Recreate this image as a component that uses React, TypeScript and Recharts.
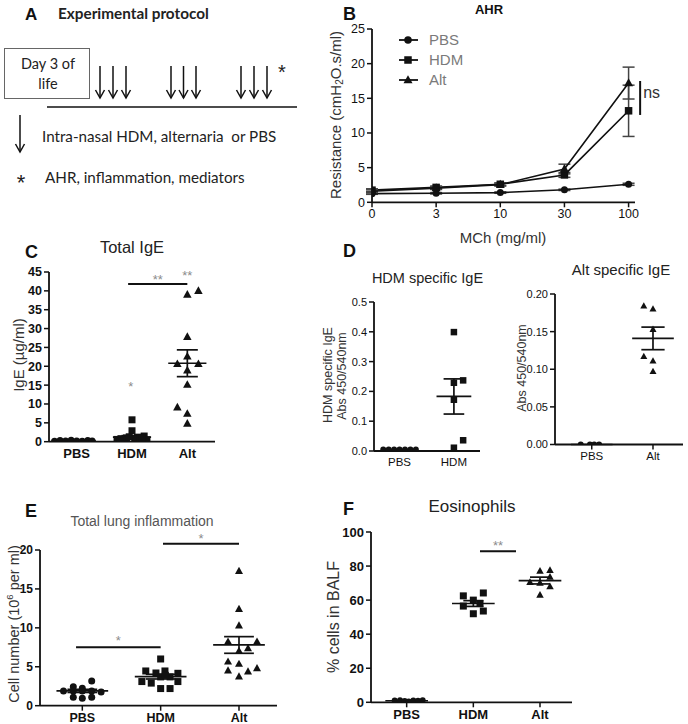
import React from 'react';
import {
  ScatterChart, Scatter, XAxis, YAxis, ReferenceLine, ReferenceDot,
  LineChart, Line, ErrorBar, Legend,
} from 'recharts';

const FONT = '"Liberation Sans", Arial, Helvetica, sans-serif';
const AFONT = 'Lato, "Open Sans", sans-serif';
const INK = '#111';
const STAR = '#8a8a8a';

// ---------------- Panel B : AHR ----------------
const doseLabels = ['0', '3', '10', '30', '100'];
const ahrPBS = [1.25, 1.3, 1.4, 1.8, 2.6];
const ahrHDM = [1.75, 2.15, 2.6, 3.95, 13.2];
const ahrAlt = [1.6, 2.05, 2.55, 4.8, 17.2];
const ahrPBSErr = [0.1, 0.1, 0.1, 0.1, 0.15];
const ahrHDMErr = [0.2, 0.2, 0.2, 0.35, 3.7];
const ahrAltErr = [0.2, 0.2, 0.2, 0.7, 2.3];
const ahrTicks = [0, 5, 10, 15, 20, 25];

// ---------------- Panel C : Total IgE ----------------
const groups3 = ['PBS', 'HDM', 'Alt'];
const igePBS = [0.1, 0.3, 0.2, 0.4, 0.2, 0.1, 0.3, 0.2];
const igePBSJit = [-0.4, -0.3, -0.2, -0.1, 0, 0.1, 0.2, 0.28];
const igeHDM = [5.8, 2.9, 1.5, 1.2, 1.0, 0.8, 0.6, 0.5, 0.7, 0.4, 1.3, 0.9, 0.3, 1.1];
const igeHDMJit = [0, 0, 0.22, 0.1, -0.1, -0.2, -0.27, 0.27, 0.05, -0.15, -0.05, 0.15, -0.22, 0.18];
const igeAlt = [40.0, 39.0, 27.8, 22.6, 20.6, 20.6, 18.9, 15.1, 9.1, 7.4, 4.8];
const igeAltJit = [0.2, 0, 0, 0, -0.18, 0.2, 0, 0, -0.18, 0, 0];
const igeMean = [0.2, 1.2, 20.8];
const igeSem = [0.04, 0.4, 3.55];
const igeTicks = [0, 5, 10, 15, 20, 25, 30, 35, 40, 45];

// ---------------- Panel D : specific IgE ----------------
const groupsHDM = ['PBS', 'HDM'];
const hdmIgePBS = [0.005, 0.005, 0.005, 0.005, 0.005, 0.005, 0.005];
const hdmIgePBSJit = [-0.3, -0.2, -0.1, 0, 0.1, 0.2, 0.3];
const hdmIgeHDM = [0.399, 0.237, 0.229, 0.172, 0.036, 0.011];
const hdmIgeHDMJit = [0, 0.17, 0, 0, 0.17, 0];
const hdmIgeMean = [0.005, 0.183];
const hdmIgeSem = [0, 0.059];
const hdmIgeTicks = [0, 0.1, 0.2, 0.3, 0.4, 0.5];

const groupsAlt = ['PBS', 'Alt'];
const altIgePBS = [0, 0, 0, 0];
const altIgePBSJit = [-0.18, -0.03, 0.04, 0.12];
const altIgeAlt = [0.184, 0.18, 0.153, 0.117, 0.111, 0.097];
const altIgeAltJit = [-0.15, 0, 0, -0.15, 0, 0];
const altIgeMean = [0, 0.141];
const altIgeSem = [0, 0.015];
const altIgeTicks = [0, 0.05, 0.1, 0.15, 0.2];

// ---------------- Panel E : total lung inflammation ----------------
const cellPBS = [3.17, 2.44, 2.23, 1.9, 1.9, 1.9, 1.75, 1.08, 0.95, 1.08, 1.9];
const cellPBSJit = [0.12, -0.115, 0, -0.24, -0.115, 0.12, 0.24, -0.115, 0, 0.12, 0];
const cellHDM = [6.0, 4.46, 4.2, 4.46, 4.16, 3.1, 2.9, 3.7, 3.7, 3.1, 2.2, 2.2, 3.9];
const cellHDMJit = [0, -0.19, -0.06, 0.055, 0.22, -0.24, -0.12, 0, 0.12, 0.22, 0, 0.12, 0.06];
const cellAlt = [17.3, 12.42, 10.28, 8.22, 8.22, 7.37, 7.03, 5.65, 5.36, 4.5, 4.37, 4.8, 3.73];
const cellAltJit = [0, 0, 0, -0.14, 0.23, 0.115, 0, -0.14, 0, -0.14, 0.115, 0.23, 0];
const cellMean = [1.9, 3.73, 7.8];
const cellSem = [0.2, 0.3, 1.07];
const cellTicks = [0, 5, 10, 15, 20];

// ---------------- Panel F : eosinophils ----------------
const eosPBS = [1.0, 1.2, 0.8, 0.5, 1.1, 0.9, 1.2];
const eosPBSJit = [-0.18, -0.1, -0.03, 0.03, 0.1, 0.17, 0.24];
const eosHDM = [64.2, 62.5, 60, 58, 56.5, 53.6, 52];
const eosHDMJit = [0.15, -0.15, 0, 0.1, -0.15, 0.15, 0];
const eosAlt = [77, 77.5, 73.5, 70.5, 70, 68, 63];
const eosAltJit = [0, 0.15, 0.15, -0.15, 0, 0.15, 0];
const eosMean = [0.9, 58, 71.5];
const eosSem = [0.1, 1.7, 2];
const eosTicks = [0, 20, 40, 60, 80, 100];

const pts = (g: number, vals: number[], jit: number[]) =>
  vals.map((v, i) => ({ x: g + jit[i], y: v }));

type Kind = 'c' | 's' | 't';

function Marker({ kind, cx, cy, size }: { kind: Kind; cx?: number; cy?: number; size: number }) {
  if (cx == null || cy == null || isNaN(cx) || isNaN(cy)) return null;
  if (kind === 'c') return <circle cx={cx} cy={cy} r={size / 2} fill={INK} />;
  if (kind === 's')
    return <rect x={cx - size / 2} y={cy - size / 2} width={size} height={size} fill={INK} />;
  const h = size * 0.9;
  return (
    <polygon
      points={`${cx},${cy - h * 0.6} ${cx - size / 2},${cy + h * 0.4} ${cx + size / 2},${cy + h * 0.4}`}
      fill={INK}
    />
  );
}

type Ser = { data: { x: number; y: number }[]; kind: Kind; size: number };
type Sig = { x1: number; x2: number; y: number; text: string; offset: number };
type Mark = { x: number; y: number; text: string };

type DotProps = {
  rect: { x0: number; x1: number; y0: number; y1: number };
  xDomain: [number, number];
  yDomain: [number, number];
  yTicks: number[];
  yFmt: (v: number) => string;
  labels: string[];
  series: Ser[];
  means: number[];
  sems: number[];
  meanHalf: number;
  capHalf: number;
  sigs?: Sig[];
  marks?: Mark[];
  xFont: number;
  yFont: number;
  xBold: boolean;
  yBold: boolean;
  xTickLine: boolean;
};

function DotPlot(p: DotProps) {
  const ML = 50, MT = 24, MR = 30, MB = 30;
  const { rect } = p;
  const w = rect.x1 - rect.x0 + ML + MR;
  const h = rect.y1 - rect.y0 + MT + MB;
  const refs: React.ReactNode[] = [];
  p.means.forEach((m, k) => {
    const g = k + 1;
    const s = p.sems[k];
    refs.push(
      <ReferenceLine key={`m${k}`} ifOverflow="visible" stroke={INK} strokeWidth={1.7}
        segment={[{ x: g - p.meanHalf, y: m }, { x: g + p.meanHalf, y: m }]} />
    );
    if (s > 0) {
      refs.push(
        <ReferenceLine key={`v${k}`} ifOverflow="visible" stroke={INK} strokeWidth={1.7}
          segment={[{ x: g, y: m - s }, { x: g, y: m + s }]} />
      );
      refs.push(
        <ReferenceLine key={`u${k}`} ifOverflow="visible" stroke={INK} strokeWidth={1.7}
          segment={[{ x: g - p.capHalf, y: m + s }, { x: g + p.capHalf, y: m + s }]} />
      );
      refs.push(
        <ReferenceLine key={`l${k}`} ifOverflow="visible" stroke={INK} strokeWidth={1.7}
          segment={[{ x: g - p.capHalf, y: m - s }, { x: g + p.capHalf, y: m - s }]} />
      );
    }
  });
  (p.sigs || []).forEach((sg, k) => {
    refs.push(
      <ReferenceLine key={`sig${k}`} ifOverflow="visible" stroke={INK} strokeWidth={2}
        segment={[{ x: sg.x1, y: sg.y }, { x: sg.x2, y: sg.y }]}
        label={{ value: sg.text, position: 'top', offset: sg.offset, fill: STAR, fontSize: 13, fontFamily: FONT }} />
    );
  });
  (p.marks || []).forEach((mk, k) => {
    refs.push(
      <ReferenceDot key={`mk${k}`} x={mk.x} y={mk.y} r={0} fill="none" stroke="none" ifOverflow="visible"
        label={{ value: mk.text, position: 'center', fill: STAR, fontSize: 13, fontFamily: FONT }} />
    );
  });
  return (
    <div style={{ position: 'absolute', left: rect.x0 - ML, top: rect.y0 - MT, width: w, height: h }}>
      <ScatterChart width={w} height={h} margin={{ top: MT, right: MR, bottom: 0, left: 0 }}>
        <XAxis
          type="number" dataKey="x" domain={p.xDomain} allowDataOverflow
          ticks={p.labels.map((_, i) => i + 1)}
          tickFormatter={(v: number) => p.labels[Math.round(v) - 1] ?? ''}
          interval={0} height={MB}
          axisLine={{ stroke: INK, strokeWidth: 1.8 }}
          tickLine={p.xTickLine ? { stroke: INK, strokeWidth: 1.5 } : false}
          tickSize={5}
          tick={{ fontSize: p.xFont, fontWeight: p.xBold ? 'bold' : 'normal', fill: INK, fontFamily: FONT }}
        />
        <YAxis
          type="number" dataKey="y" domain={p.yDomain} allowDataOverflow
          ticks={p.yTicks} tickFormatter={p.yFmt} interval={0} width={ML}
          axisLine={{ stroke: INK, strokeWidth: 1.8 }}
          tickLine={{ stroke: INK, strokeWidth: 1.5 }} tickSize={5}
          tick={{ fontSize: p.yFont, fontWeight: p.yBold ? 'bold' : 'normal', fill: INK, fontFamily: FONT }}
        />
        {p.series.map((s, k) => (
          <Scatter
            key={k} data={s.data} isAnimationActive={false}
            shape={(sp: any) => <Marker kind={s.kind} cx={sp.cx} cy={sp.cy} size={s.size} />}
          />
        ))}
        {refs}
      </ScatterChart>
    </div>
  );
}

// ---------------- Panel B chart ----------------
const ahrRows = doseLabels.map((d, i) => ({
  i, dose: d,
  PBS: ahrPBS[i], HDM: ahrHDM[i], Alt: ahrAlt[i],
  ePBS: ahrPBSErr[i], eHDM: ahrHDMErr[i], eAlt: ahrAltErr[i],
}));
const ahrKinds: Record<string, Kind> = { PBS: 'c', HDM: 's', Alt: 't' };

function AhrLegend() {
  return (
    <div style={{ fontFamily: FONT }}>
      {['PBS', 'HDM', 'Alt'].map((n) => (
        <div key={n} style={{ display: 'flex', alignItems: 'center', height: 20 }}>
          <svg width={24} height={20}>
            <line x1={2} y1={10} x2={21} y2={10} stroke={INK} strokeWidth={1.8} />
            <Marker kind={ahrKinds[n]} cx={11} cy={10} size={ahrKinds[n] === 't' ? 9 : 7.5} />
          </svg>
          <span style={{ marginLeft: 8, fontSize: 15, color: '#7a7a7a', lineHeight: '20px' }}>{n}</span>
        </div>
      ))}
    </div>
  );
}

function AhrChart() {
  const rect = { x0: 371.7, x1: 634.7, y0: 29, y1: 202.3 };
  const ML = 50, MT = 20, MR = 30, MB = 30;
  const w = rect.x1 - rect.x0 + ML + MR;
  const h = rect.y1 - rect.y0 + MT + MB;
  const left = rect.x0 - ML, top = rect.y0 - MT;
  const mk = (kind: Kind, size: number) => (dp: any) =>
    <Marker key={dp.index} kind={kind} cx={dp.cx} cy={dp.cy} size={size} />;
  return (
    <div style={{ position: 'absolute', left, top, width: w, height: h }}>
      <LineChart width={w} height={h} data={ahrRows} margin={{ top: MT, right: MR, bottom: 0, left: 0 }}>
        <XAxis
          type="number" dataKey="i" domain={[0, 4.1]} allowDataOverflow
          ticks={[0, 1, 2, 3, 4]} interval={0}
          tickFormatter={(v: number) => doseLabels[Math.round(v)] ?? ''}
          height={MB} axisLine={{ stroke: INK, strokeWidth: 1.8 }}
          tickLine={{ stroke: INK, strokeWidth: 1.5 }} tickSize={5}
          tick={{ fontSize: 12.5, fill: INK, fontFamily: FONT }}
        />
        <YAxis
          type="number" domain={[0, 25]} ticks={ahrTicks} interval={0} width={ML}
          axisLine={{ stroke: INK, strokeWidth: 1.8 }}
          tickLine={{ stroke: INK, strokeWidth: 1.5 }} tickSize={5}
          tick={{ fontSize: 12.5, fill: INK, fontFamily: FONT }}
        />
        <Legend
          layout="vertical" align="center" verticalAlign="middle"
          wrapperStyle={{ left: 397 - left, top: 30 - top, width: 90 }}
          content={() => <AhrLegend />}
        />
        <Line dataKey="PBS" name="PBS" type="linear" stroke={INK} strokeWidth={1.6} isAnimationActive={false} dot={mk('c', 7)} activeDot={false}>
          <ErrorBar dataKey="ePBS" width={6} stroke="#444" strokeWidth={1.5} direction="y" />
        </Line>
        <Line dataKey="HDM" name="HDM" type="linear" stroke={INK} strokeWidth={1.6} isAnimationActive={false} dot={mk('s', 7.5)} activeDot={false}>
          <ErrorBar dataKey="eHDM" width={6} stroke="#444" strokeWidth={1.5} direction="y" />
        </Line>
        <Line dataKey="Alt" name="Alt" type="linear" stroke={INK} strokeWidth={1.6} isAnimationActive={false} dot={mk('t', 9)} activeDot={false}>
          <ErrorBar dataKey="eAlt" width={6} stroke="#444" strokeWidth={1.5} direction="y" />
        </Line>
        <ReferenceLine ifOverflow="visible" stroke={INK} strokeWidth={2}
          segment={[{ x: 4.18, y: 12.6 }, { x: 4.18, y: 17.5 }]} />
        <ReferenceDot x={4.15} y={15.84} r={0} fill="none" stroke="none" ifOverflow="visible"
          label={{ value: 'ns', position: 'right', offset: 5, fill: '#333', fontSize: 16, fontFamily: FONT }} />
      </LineChart>
    </div>
  );
}

// ---------------- overlay text ----------------
function Txt(props: {
  x: number; y: number; size: number; children: React.ReactNode; anchor?: string;
  weight?: string; fill?: string; rotate?: boolean; family?: string;
}) {
  const { x, y, size, children, anchor = 'middle', weight = 'normal', fill = '#222', rotate = false, family = FONT } = props;
  return (
    <text
      x={x} y={y} fontSize={size} fontFamily={family} fontWeight={weight} fill={fill}
      textAnchor={anchor as any}
      dominantBaseline={rotate ? 'central' : undefined}
      transform={rotate ? `rotate(-90 ${x} ${y})` : undefined}
      style={{ whiteSpace: 'pre' }}
    >
      {children}
    </text>
  );
}

function DownArrow({ x, y1, y2 }: { x: number; y1: number; y2: number }) {
  return (
    <g stroke="#111" strokeWidth={1.5} fill="none">
      <line x1={x} y1={y1} x2={x} y2={y2} />
      <polyline points={`${x - 4.5},${y2 - 8} ${x},${y2} ${x + 4.5},${y2 - 8}`} />
    </g>
  );
}

const arrowXs = [100, 113, 126, 171, 183.5, 196, 241, 254, 267];

function Overlay() {
  return (
    <svg width={688} height={724} style={{ position: 'absolute', left: 0, top: 0, pointerEvents: 'none' }}>
      {/* Panel A */}
      <Txt x={25} y={20} size={17} weight="bold" anchor="start" fill="#111">A</Txt>
      <Txt x={58} y={19} size={15.3} weight="bold" anchor="start" family={AFONT}>Experimental protocol</Txt>
      <rect x={4.5} y={48.5} width={85} height={50} fill="none" stroke="#666" strokeWidth={1} />
      <Txt x={48} y={69} size={14.5} family={AFONT}>Day 3 of</Txt>
      <Txt x={48} y={89} size={14.5} family={AFONT}>life</Txt>
      {arrowXs.map((x) => <DownArrow key={x} x={x} y1={66} y2={98} />)}
      <line x1={47} y1={107} x2={297} y2={107} stroke="#111" strokeWidth={1.5} />
      <Txt x={282} y={79} size={20} fill="#222">*</Txt>
      <DownArrow x={20} y1={115} y2={152} />
      <Txt x={42} y={142} size={15.2} anchor="start" family={AFONT}>{'Intra-nasal HDM, alternaria\u00a0\u00a0or PBS'}</Txt>
      <Txt x={21} y={190} size={22} fill="#222">*</Txt>
      <Txt x={45} y={183} size={15.2} anchor="start" family={AFONT}>AHR, inflammation, mediators</Txt>

      {/* Panel B */}
      <Txt x={343} y={20} size={18} weight="bold" anchor="start" fill="#111">B</Txt>
      <Txt x={489} y={13.5} size={13} weight="bold" fill="#111">AHR</Txt>
      <Txt x={335} y={115} size={15} rotate fill="#333">
        Resistance (cmH<tspan fontSize={10} dy={4}>2</tspan><tspan dy={-4}>O.s/ml)</tspan>
      </Txt>
      <Txt x={503} y={243} size={15} fill="#333">MCh (mg/ml)</Txt>

      {/* Panel C */}
      <Txt x={25} y={258} size={18} weight="bold" anchor="start" fill="#111">C</Txt>
      <Txt x={132} y={253} size={16.5} fill="#222">Total IgE</Txt>
      <Txt x={18} y={355} size={15} rotate fill="#333">IgE (µg/ml)</Txt>

      {/* Panel D */}
      <Txt x={343} y={257} size={18} weight="bold" anchor="start" fill="#111">D</Txt>
      <Txt x={427.5} y={283} size={14.5} fill="#222">HDM specific IgE</Txt>
      <Txt x={621} y={275} size={15} fill="#222">Alt specific IgE</Txt>
      <Txt x={328} y={375} size={12.5} rotate fill="#333">HDM specific IgE</Txt>
      <Txt x={342} y={376} size={12.5} rotate fill="#333">Abs 450/540nm</Txt>
      <Txt x={522} y={368} size={12.5} rotate fill="#333">Abs 450/540nm</Txt>

      {/* Panel E */}
      <Txt x={25} y={517} size={18} weight="bold" anchor="start" fill="#111">E</Txt>
      <Txt x={142} y={526} size={14} fill="#555">Total lung inflammation</Txt>
      <Txt x={14} y={624} size={14.5} rotate fill="#333">
        Cell number (10<tspan fontSize={9.5} dy={-5}>6</tspan><tspan dy={5}> per ml)</tspan>
      </Txt>

      {/* Panel F */}
      <Txt x={343} y={515} size={18} weight="bold" anchor="start" fill="#111">F</Txt>
      <Txt x={472} y={512} size={17} fill="#222">Eosinophils</Txt>
      <Txt x={333} y={617} size={16} rotate fill="#333">% cells in BALF</Txt>
    </svg>
  );
}

export default function App() {
  return (
    <div style={{ position: 'absolute', left: 0, top: 0, width: 688, height: 724, background: '#fff', overflow: 'hidden', fontFamily: FONT }}>
      <AhrChart />
      <DotPlot
        rect={{ x0: 49, x1: 215, y0: 272.3, y1: 442 }}
        xDomain={[0.5, 3.5]} yDomain={[0, 45]} yTicks={igeTicks} yFmt={(v) => String(v)}
        labels={groups3}
        series={[
          { data: pts(1, igePBS, igePBSJit), kind: 'c', size: 7 },
          { data: pts(2, igeHDM, igeHDMJit), kind: 's', size: 7 },
          { data: pts(3, igeAlt, igeAltJit), kind: 't', size: 8.5 },
        ]}
        means={igeMean} sems={igeSem} meanHalf={0.345} capHalf={0.19}
        sigs={[{ x1: 1.93, x2: 3.0, y: 41.8, text: '**', offset: 0 }]}
        marks={[{ x: 1.98, y: 14.6, text: '*' }, { x: 3.0, y: 44.0, text: '**' }]}
        xFont={13} yFont={12.5} xBold yBold xTickLine={false}
      />
      <DotPlot
        rect={{ x0: 374, x1: 480, y0: 301.7, y1: 450.7 }}
        xDomain={[0.53, 2.48]} yDomain={[0, 0.5]} yTicks={hdmIgeTicks} yFmt={(v) => v.toFixed(1)}
        labels={groupsHDM}
        series={[
          { data: pts(1, hdmIgePBS, hdmIgePBSJit), kind: 'c', size: 6 },
          { data: pts(2, hdmIgeHDM, hdmIgeHDMJit), kind: 's', size: 6.5 },
        ]}
        means={hdmIgeMean} sems={hdmIgeSem} meanHalf={0.32} capHalf={0.19}
        xFont={11.5} yFont={11} xBold={false} yBold={false} xTickLine={false}
      />
      <DotPlot
        rect={{ x0: 555, x1: 683, y0: 294, y1: 444.5 }}
        xDomain={[0.4, 2.49]} yDomain={[0, 0.2]} yTicks={altIgeTicks} yFmt={(v) => v.toFixed(2)}
        labels={groupsAlt}
        series={[
          { data: pts(1, altIgePBS, altIgePBSJit), kind: 'c', size: 6 },
          { data: pts(2, altIgeAlt, altIgeAltJit), kind: 't', size: 7 },
        ]}
        means={altIgeMean} sems={altIgeSem} meanHalf={0.34} capHalf={0.19}
        xFont={11.5} yFont={11} xBold={false} yBold={false} xTickLine
      />
      <DotPlot
        rect={{ x0: 40, x1: 277, y0: 550, y1: 705.7 }}
        xDomain={[0.46, 3.485]} yDomain={[0, 20]} yTicks={cellTicks} yFmt={(v) => String(v)}
        labels={groups3}
        series={[
          { data: pts(1, cellPBS, cellPBSJit), kind: 'c', size: 7 },
          { data: pts(2, cellHDM, cellHDMJit), kind: 's', size: 7 },
          { data: pts(3, cellAlt, cellAltJit), kind: 't', size: 8 },
        ]}
        means={cellMean} sems={cellSem} meanHalf={0.33} capHalf={0.19}
        sigs={[
          { x1: 0.92, x2: 2.0, y: 7.5, text: '*', offset: 2 },
          { x1: 2.03, x2: 3.0, y: 20.8, text: '*', offset: 0.5 },
        ]}
        xFont={12.5} yFont={12} xBold yBold xTickLine
      />
      <DotPlot
        rect={{ x0: 371, x1: 572, y0: 531.7, y1: 702 }}
        xDomain={[0.465, 3.48]} yDomain={[0, 100]} yTicks={eosTicks} yFmt={(v) => String(v)}
        labels={groups3}
        series={[
          { data: pts(1, eosPBS, eosPBSJit), kind: 'c', size: 6 },
          { data: pts(2, eosHDM, eosHDMJit), kind: 's', size: 7 },
          { data: pts(3, eosAlt, eosAltJit), kind: 't', size: 7.5 },
        ]}
        means={eosMean} sems={eosSem} meanHalf={0.32} capHalf={0.15}
        sigs={[{ x1: 2.1, x2: 2.64, y: 88.7, text: '**', offset: 1.5 }]}
        xFont={13} yFont={13} xBold yBold xTickLine
      />
      <Overlay />
    </div>
  );
}
